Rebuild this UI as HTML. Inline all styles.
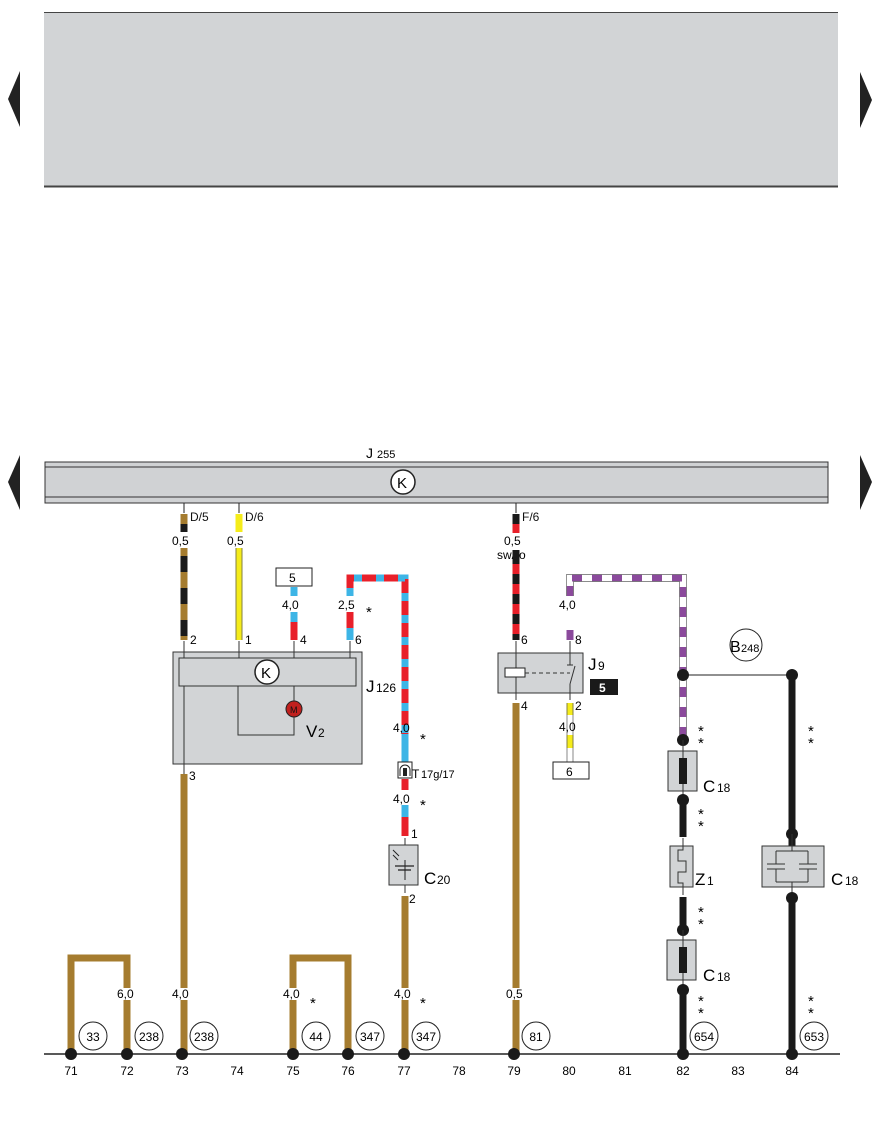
<!DOCTYPE html>
<html><head><meta charset="utf-8"><style>
html,body{margin:0;padding:0;background:#fff;}
svg{display:block;font-family:"Liberation Sans",Arial,sans-serif;}
.st{font-size:15px;}
</style></head><body>
<svg width="884" height="1126" viewBox="0 0 884 1126" xmlns="http://www.w3.org/2000/svg">
<rect x="44" y="12" width="794" height="175" fill="#d2d4d6"/>
<line x1="44" y1="12.5" x2="838" y2="12.5" stroke="#444" stroke-width="1"/>
<line x1="44" y1="186.5" x2="838" y2="186.5" stroke="#444" stroke-width="2"/>
<polygon points="20,71 8,99 20,127" fill="#222"/>
<polygon points="860,72 872,100 860,128" fill="#222"/>
<polygon points="20,455 8,482 20,510" fill="#222"/>
<polygon points="860,455 872,482 860,510" fill="#222"/>

<text x="366" y="458" font-size="14">J</text><text x="377" y="458" font-size="11">255</text>
<rect x="45" y="462" width="783" height="41" fill="#d0d2d4" stroke="#333" stroke-width="1"/>
<line x1="45" y1="467" x2="828" y2="467" stroke="#333"/>
<line x1="45" y1="497" x2="828" y2="497" stroke="#333"/>
<circle cx="403" cy="482" r="12" fill="#fff" stroke="#222" stroke-width="1.5"/>
<text x="397" y="488" font-size="15">K</text>
<line x1="184" y1="503" x2="184" y2="513" stroke="#222"/>
<line x1="239" y1="503" x2="239" y2="513" stroke="#222"/>
<line x1="516" y1="503" x2="516" y2="513" stroke="#222"/>

<g font-size="12" fill="#111">
<text x="190" y="521">D/5</text><text x="245" y="521">D/6</text><text x="522" y="521">F/6</text>
</g>

<line x1="184" y1="514" x2="184" y2="532" stroke="#a57c2f" stroke-width="7"/>
<line x1="184" y1="548" x2="184" y2="640" stroke="#a57c2f" stroke-width="7"/>
<line x1="184" y1="548" x2="184" y2="640" stroke="#1a1a1a" stroke-width="7" stroke-dasharray="0 8 16 8"/>
<line x1="184" y1="524" x2="184" y2="532" stroke="#1a1a1a" stroke-width="7"/>
<text x="172" y="545" font-size="12">0,5</text>
<line x1="239" y1="514" x2="239" y2="532" stroke="#f5ec1a" stroke-width="7"/>
<line x1="239" y1="548" x2="239" y2="640" stroke="#f5ec1a" stroke-width="7"/>
<line x1="236" y1="548" x2="236" y2="640" stroke="#555" stroke-width="0.7"/>
<line x1="242" y1="548" x2="242" y2="640" stroke="#555" stroke-width="0.7"/>
<text x="227" y="545" font-size="12">0,5</text>
<rect x="276" y="568" width="36" height="18" fill="#fff" stroke="#222"/>
<text x="289" y="582" font-size="12">5</text>
<line x1="294" y1="587" x2="294" y2="596" stroke="#3db5e6" stroke-width="7"/>
<line x1="294" y1="612" x2="294" y2="640" stroke="#e8202a" stroke-width="7"/>
<line x1="294" y1="612" x2="294" y2="622" stroke="#3db5e6" stroke-width="7"/>
<text x="282" y="609" font-size="12">4,0</text>
<path d="M350,596 V578 H405 V742" fill="none" stroke="#e8202a" stroke-width="7"/>
<path d="M350,596 V578 H405 V742" fill="none" stroke="#3db5e6" stroke-width="7" stroke-dasharray="8 14"/>
<line x1="350" y1="612" x2="350" y2="640" stroke="#e8202a" stroke-width="7"/>
<line x1="350" y1="628" x2="350" y2="640" stroke="#3db5e6" stroke-width="7"/>
<text x="338" y="609" font-size="12">2,5</text><text x="366" y="617" class="st">*</text>
<line x1="405" y1="734" x2="405" y2="744" stroke="#3db5e6" stroke-width="7"/>
<text x="393" y="732" font-size="12">4,0</text><text x="420" y="744" class="st">*</text>
<line x1="405" y1="744" x2="405" y2="762" stroke="#3db5e6" stroke-width="7"/>
<rect x="398" y="762" width="14" height="16" fill="#fff" stroke="#222"/>
<path d="M400,776 V770 A5,5 0 0 1 410,770 V776" fill="none" stroke="#222"/>
<rect x="403" y="768" width="4" height="8" fill="#222"/>
<text x="412" y="778" font-size="12">T</text><text x="421" y="778" font-size="11">17g/17</text>
<line x1="405" y1="779" x2="405" y2="790" stroke="#e8202a" stroke-width="7"/>
<text x="393" y="803" font-size="12">4,0</text><text x="420" y="810" class="st">*</text>
<line x1="405" y1="805" x2="405" y2="836" stroke="#e8202a" stroke-width="7"/>
<line x1="405" y1="805" x2="405" y2="817" stroke="#3db5e6" stroke-width="7"/>
<text x="411" y="838" font-size="12">1</text>
<rect x="389" y="845" width="29" height="40" fill="#d2d4d6" stroke="#333"/>
<line x1="405" y1="838" x2="405" y2="845" stroke="#333"/>
<line x1="395" y1="866" x2="414" y2="866" stroke="#222" stroke-width="1.3"/>
<line x1="398" y1="870" x2="411" y2="870" stroke="#222" stroke-width="1.3"/>
<line x1="405" y1="860" x2="405" y2="880" stroke="#222"/>
<line x1="393" y1="850" x2="399" y2="856" stroke="#222"/><line x1="393" y1="855" x2="398" y2="860" stroke="#222"/>
<text x="424" y="884" font-size="17">C</text><text x="437" y="884" font-size="12">20</text>
<line x1="405" y1="885" x2="405" y2="893" stroke="#333"/>
<text x="409" y="903" font-size="12">2</text>
<line x1="405" y1="896" x2="405" y2="1054" stroke="#a57c2f" stroke-width="7"/>

<g font-size="12">
<text x="190" y="644">2</text><text x="245" y="644">1</text><text x="300" y="644">4</text><text x="355" y="644">6</text>
</g>
<rect x="173" y="652" width="189" height="112" fill="#d2d4d6" stroke="#333"/>
<rect x="179" y="658" width="177" height="28" fill="#d2d4d6" stroke="#333"/>
<line x1="184" y1="641" x2="184" y2="658" stroke="#333"/>
<line x1="239" y1="641" x2="239" y2="658" stroke="#333"/>
<line x1="294" y1="641" x2="294" y2="658" stroke="#333"/>
<line x1="350" y1="641" x2="350" y2="658" stroke="#333"/>
<circle cx="267" cy="672" r="12" fill="#fff" stroke="#222" stroke-width="1.5"/>
<text x="261" y="678" font-size="15">K</text>
<line x1="184" y1="686" x2="184" y2="775" stroke="#333"/>
<path d="M238,686 V735 H294 V686" fill="none" stroke="#333"/>
<circle cx="294" cy="709" r="8" fill="#c0201e" stroke="#222"/>
<text x="290" y="713" font-size="9" fill="#111">M</text>
<text x="306" y="737" font-size="17">V</text><text x="318" y="737" font-size="12">2</text>
<text x="366" y="692" font-size="17">J</text><text x="376" y="692" font-size="12">126</text>
<text x="189" y="780" font-size="12">3</text>
<line x1="184" y1="774" x2="184" y2="1054" stroke="#a57c2f" stroke-width="7"/>

<line x1="516" y1="514" x2="516" y2="640" stroke="#e8202a" stroke-width="7"/>
<line x1="516" y1="514" x2="516" y2="640" stroke="#1a1a1a" stroke-width="7" stroke-dasharray="10 10"/>
<rect x="505" y="533" width="24" height="24" fill="#fff"/>
<text x="504" y="545" font-size="12">0,5</text>
<text x="497" y="559" font-size="12">sw/ro</text>
<line x1="516" y1="550" x2="516" y2="560" stroke="#1a1a1a" stroke-width="7"/>
<text x="521" y="644" font-size="12">6</text>
<rect x="498" y="653" width="85" height="40" fill="#d2d4d6" stroke="#333"/>
<line x1="516" y1="641" x2="516" y2="700" stroke="#333"/>
<rect x="505" y="668" width="20" height="9" fill="#fff" stroke="#222"/>
<line x1="525" y1="673" x2="570" y2="673" stroke="#333" stroke-dasharray="4 3"/>
<line x1="570" y1="641" x2="570" y2="665" stroke="#333"/>
<line x1="567" y1="665" x2="573" y2="665" stroke="#333"/>
<line x1="575" y1="666" x2="570" y2="684" stroke="#333"/>
<line x1="570" y1="684" x2="570" y2="700" stroke="#333"/>
<text x="588" y="670" font-size="17">J</text><text x="598" y="670" font-size="12">9</text>
<rect x="590" y="679" width="28" height="16" fill="#1a1a1a"/>
<text x="599" y="692" font-size="12" font-weight="bold" fill="#fff">5</text>
<text x="521" y="710" font-size="12">4</text>
<line x1="516" y1="703" x2="516" y2="1054" stroke="#a57c2f" stroke-width="7"/>
<text x="575" y="710" font-size="12">2</text>
<line x1="570" y1="703" x2="570" y2="715" stroke="#f5ec1a" stroke-width="7"/>
<line x1="570" y1="735" x2="570" y2="748" stroke="#f5ec1a" stroke-width="7"/>
<line x1="567" y1="703" x2="567" y2="762" stroke="#555" stroke-width="0.7"/>
<line x1="573" y1="703" x2="573" y2="762" stroke="#555" stroke-width="0.7"/>
<text x="559" y="731" font-size="12">4,0</text>
<rect x="553" y="762" width="36" height="17" fill="#fff" stroke="#222"/>
<text x="566" y="776" font-size="12">6</text>
<path d="M570,596 V578 H683 V740" fill="none" stroke="#fff" stroke-width="7"/>
<path d="M570,596 V578 H683 V740" fill="none" stroke="#8b4a9c" stroke-width="7" stroke-dasharray="10 10"/>
<path d="M566.5,596 V574.5 H686.5 V740 M573.5,596 V581.5 H679.5 V740" fill="none" stroke="#666" stroke-width="0.7"/>
<line x1="570" y1="630" x2="570" y2="640" stroke="#8b4a9c" stroke-width="7"/>
<text x="559" y="609" font-size="12">4,0</text>
<text x="575" y="644" font-size="12">8</text>
<circle cx="746" cy="645" r="16" fill="#fff" stroke="#222"/>
<text x="730" y="652" font-size="16">B</text><text x="741" y="652" font-size="11">248</text>
<line x1="683" y1="675" x2="792" y2="675" stroke="#222"/>
<circle cx="683" cy="675" r="6" fill="#1a1a1a"/>
<line x1="792" y1="675" x2="792" y2="847" stroke="#1a1a1a" stroke-width="7"/>
<circle cx="792" cy="675" r="6" fill="#1a1a1a"/>
<text x="808" y="736" class="st">*</text><text x="808" y="748" class="st">*</text>
<text x="698" y="736" class="st">*</text><text x="698" y="748" class="st">*</text>
<circle cx="683" cy="740" r="6" fill="#1a1a1a"/>
<rect x="668" y="751" width="29" height="40" fill="#d2d4d6" stroke="#333"/>
<line x1="683" y1="740" x2="683" y2="800" stroke="#333"/>
<rect x="679" y="758" width="8" height="26" fill="#1a1a1a"/>
<text x="703" y="792" font-size="17">C</text><text x="717" y="792" font-size="12">18</text>
<circle cx="683" cy="800" r="6" fill="#1a1a1a"/>
<line x1="683" y1="800" x2="683" y2="837" stroke="#1a1a1a" stroke-width="7"/>
<text x="698" y="819" class="st">*</text><text x="698" y="831" class="st">*</text>
<rect x="670" y="846" width="23" height="41" fill="#d2d4d6" stroke="#333"/>
<path d="M683,838 V850 H678 V861 H686 V872 H678 V883 H683 V895" fill="none" stroke="#333"/>
<text x="695" y="885" font-size="17">Z</text><text x="707" y="885" font-size="12">1</text>
<line x1="683" y1="897" x2="683" y2="930" stroke="#1a1a1a" stroke-width="7"/>
<text x="698" y="917" class="st">*</text><text x="698" y="929" class="st">*</text>
<circle cx="683" cy="930" r="6" fill="#1a1a1a"/>
<rect x="667" y="940" width="29" height="40" fill="#d2d4d6" stroke="#333"/>
<line x1="683" y1="930" x2="683" y2="990" stroke="#333"/>
<rect x="679" y="947" width="8" height="26" fill="#1a1a1a"/>
<text x="703" y="981" font-size="17">C</text><text x="717" y="981" font-size="12">18</text>
<circle cx="683" cy="990" r="6" fill="#1a1a1a"/>
<line x1="683" y1="990" x2="683" y2="1054" stroke="#1a1a1a" stroke-width="7"/>
<text x="698" y="1006" class="st">*</text><text x="698" y="1018" class="st">*</text>
<circle cx="792" cy="834" r="6" fill="#1a1a1a"/>
<rect x="762" y="846" width="62" height="41" fill="#d2d4d6" stroke="#333"/>
<path d="M792,834 V851 M776,851 H808 M776,851 V864 M808,851 V864 M767,864 H785 M799,864 H817 M767,869 H785 M799,869 H817 M776,869 V882 M808,869 V882 M776,882 H808 M792,882 V900" fill="none" stroke="#333"/>
<text x="831" y="885" font-size="17">C</text><text x="845" y="885" font-size="12">18</text>
<circle cx="792" cy="898" r="6" fill="#1a1a1a"/>
<line x1="792" y1="898" x2="792" y2="1054" stroke="#1a1a1a" stroke-width="7"/>
<text x="808" y="1006" class="st">*</text><text x="808" y="1018" class="st">*</text>

<path d="M71,1054 V958 H127 V1054" fill="none" stroke="#a57c2f" stroke-width="7"/>
<path d="M293,1054 V958 H348 V1054" fill="none" stroke="#a57c2f" stroke-width="7"/>
<g font-size="12">
<rect x="116" y="988" width="22" height="12" fill="#fff"/><text x="117" y="998">6,0</text>
<rect x="171" y="988" width="22" height="12" fill="#fff"/><text x="172" y="998">4,0</text>
<rect x="282" y="988" width="22" height="12" fill="#fff"/><text x="283" y="998">4,0</text><text x="310" y="1008" class="st">*</text>
<rect x="393" y="988" width="22" height="12" fill="#fff"/><text x="394" y="998">4,0</text><text x="420" y="1008" class="st">*</text>
<rect x="505" y="988" width="22" height="12" fill="#fff"/><text x="506" y="998">0,5</text>
</g>
<line x1="44" y1="1054" x2="840" y2="1054" stroke="#222" stroke-width="1.5"/>
<g fill="#1a1a1a">
<circle cx="71" cy="1054" r="6"/><circle cx="127" cy="1054" r="6"/><circle cx="182" cy="1054" r="6"/>
<circle cx="293" cy="1054" r="6"/><circle cx="348" cy="1054" r="6"/><circle cx="404" cy="1054" r="6"/>
<circle cx="514" cy="1054" r="6"/><circle cx="683" cy="1054" r="6"/><circle cx="792" cy="1054" r="6"/>
</g>
<g fill="#fff" stroke="#222">
<circle cx="93" cy="1036" r="14"/><circle cx="149" cy="1036" r="14"/><circle cx="204" cy="1036" r="14"/>
<circle cx="316" cy="1036" r="14"/><circle cx="370" cy="1036" r="14"/><circle cx="426" cy="1036" r="14"/>
<circle cx="536" cy="1036" r="14"/><circle cx="704" cy="1036" r="14"/><circle cx="814" cy="1036" r="14"/>
</g>
<g font-size="12" text-anchor="middle">
<text x="93" y="1041">33</text><text x="149" y="1041">238</text><text x="204" y="1041">238</text>
<text x="316" y="1041">44</text><text x="370" y="1041">347</text><text x="426" y="1041">347</text>
<text x="536" y="1041">81</text><text x="704" y="1041">654</text><text x="814" y="1041">653</text>
</g>
<g font-size="12" text-anchor="middle">
<text x="71" y="1075">71</text><text x="127" y="1075">72</text><text x="182" y="1075">73</text><text x="237" y="1075">74</text>
<text x="293" y="1075">75</text><text x="348" y="1075">76</text><text x="404" y="1075">77</text><text x="459" y="1075">78</text>
<text x="514" y="1075">79</text><text x="569" y="1075">80</text><text x="625" y="1075">81</text><text x="683" y="1075">82</text>
<text x="738" y="1075">83</text><text x="792" y="1075">84</text>
</g>
</svg>
</body></html>
